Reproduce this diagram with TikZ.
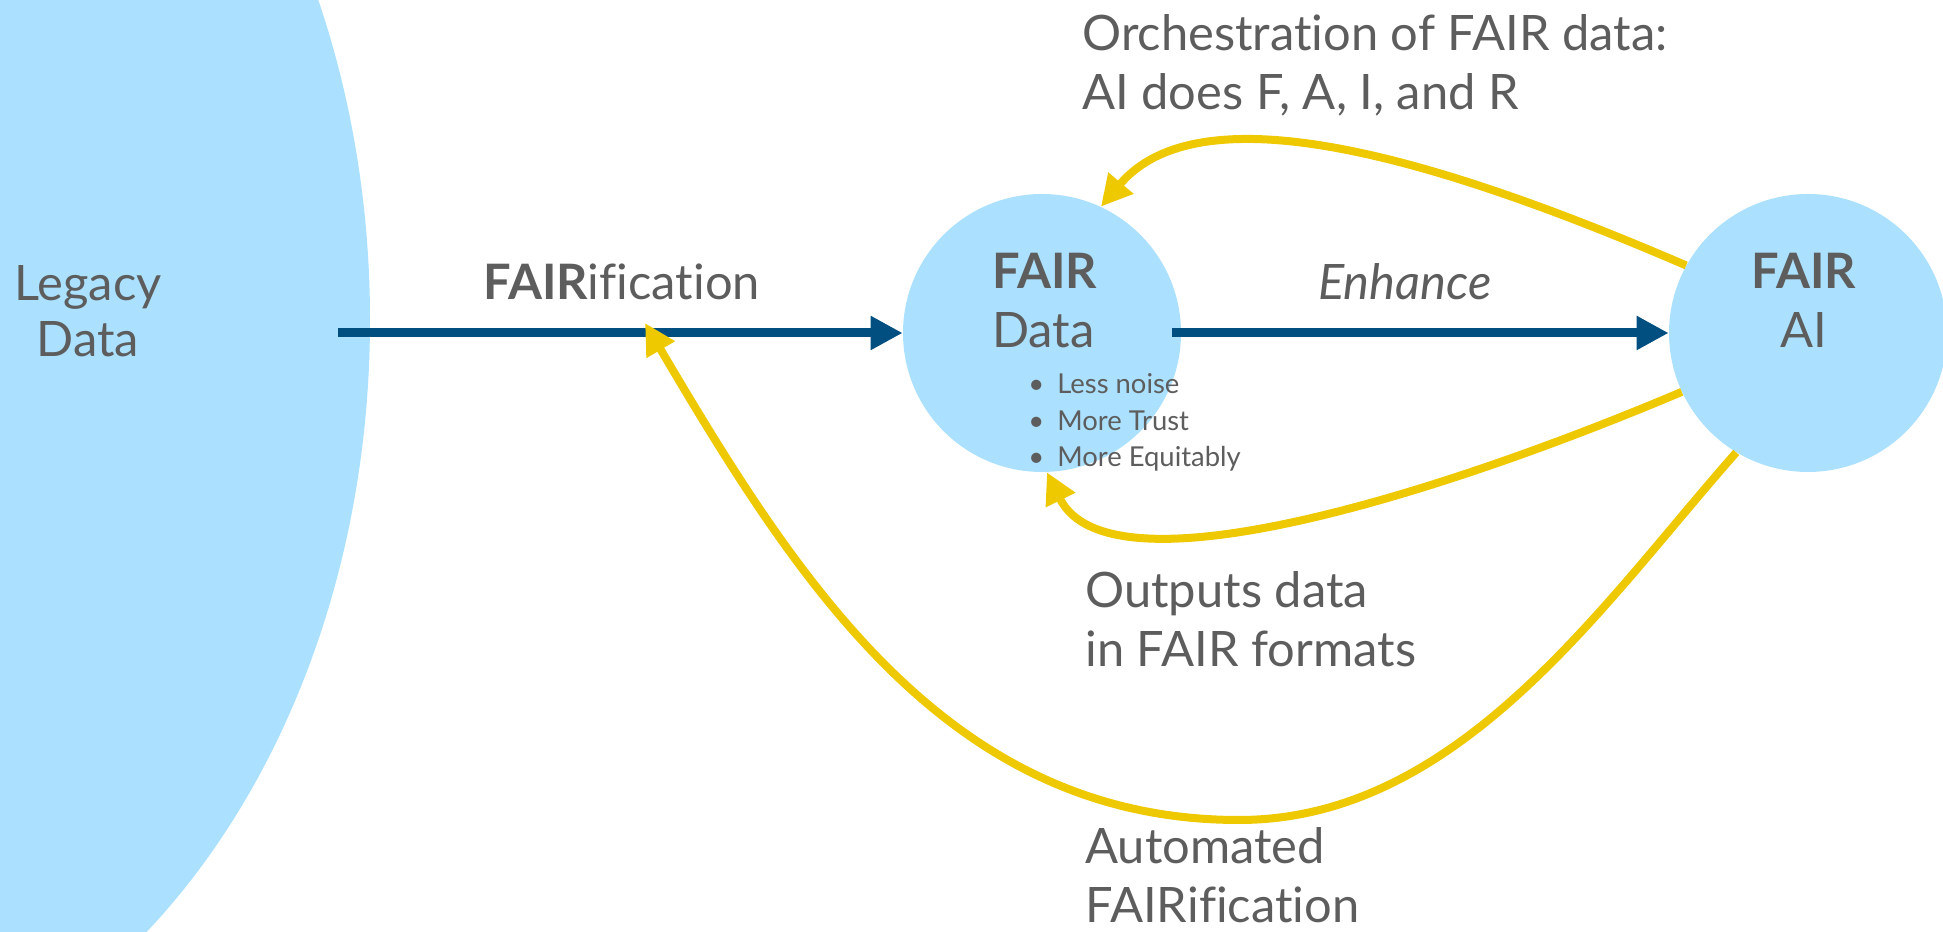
\documentclass[tikz,border=0pt]{standalone}
\usepackage{fontspec}
\setmainfont{Lato}[Ligatures=NoCommon]
\usetikzlibrary{arrows.meta}

\definecolor{bubblefill}{RGB}{171,224,254}
\definecolor{flowblue}{RGB}{0,79,128}
\definecolor{loopgold}{RGB}{238,201,0}
\definecolor{inkgray}{RGB}{93,93,93}

\tikzset{
    bubble/.style={circle, fill=bubblefill, minimum size=5.56cm, inner sep=0pt},
    bigtext/.style={text=inkgray, font=\fontsize{27.8}{34}\selectfont, inner sep=0pt},
    smalltext/.style={text=inkgray, font=\fontsize{15.6}{21}\selectfont, inner sep=0pt},
    flowarrow/.style={flowblue, line width=0.18cm, -{Triangle[length=0.64cm, width=0.64cm]}},
    feedback/.style={loopgold, line width=0.16cm, -{Triangle[length=0.62cm, width=0.62cm]}}
}

\begin{document}
\begin{tikzpicture}
    \useasboundingbox (0,0) rectangle (38.86,18.62);

    \begin{scope}
        \clip (0,0) rectangle (38.86,18.62);
        \fill[bubblefill] (-4.52,12.22) ellipse [x radius=11.92, y radius=15.68];
    \end{scope}

    \node[bubble] (data) at (20.84,11.96) {};
    \node[bubble] (ai) at (36.16,11.96) {};

    \coordinate (legacyout) at (6.76,11.96);
    \coordinate (dataout) at (23.44,11.96);
    \coordinate (fairtip) at (12.90,12.16);

    \draw[flowarrow] (legacyout) -- (data);
    \draw[flowarrow] (dataout) -- (ai);

    \draw[feedback] (ai.151) .. controls (28.60,15.52) and (24.00,16.82) .. (data.65);
    \draw[feedback] (ai.205) .. controls (29.00,8.82) and (22.20,6.62) .. (data.272);
    \draw[feedback] (ai.239) .. controls (32.06,6.56) and (29.18,2.22) .. (24.78,2.22)
        .. controls (19.00,2.22) and (16.00,6.90) .. (fairtip);

    % multi-line nodes sit on the baseline of their last line
    \node[bigtext, align=center, anchor=base, font=\fontsize{27.8}{32}\selectfont] (legacy) at (1.76,11.48) {Legacy\\Data};
    \node[bigtext, anchor=base west] (fairification) at (9.66,12.62) {{\bfseries FAIR}ification};
    \node[bigtext, anchor=base] (enhance) at (28.10,12.62) {\itshape Enhance};

    \node[bigtext, align=left, anchor=base west] (datalabel) at (19.84,11.66) {{\bfseries FAIR}\\Data};
    \node[smalltext, align=left, anchor=base west] (gains) at (20.56,9.28)
        {\makebox[0.58cm][l]{•}Less noise\\\makebox[0.58cm][l]{•}More Trust\\\makebox[0.58cm][l]{•}More Equitably};
    \node[bigtext, align=center, anchor=base] (ailabel) at (36.08,11.66) {{\bfseries FAIR}\\AI};

    \node[bigtext, align=left, anchor=base west] (orchestration) at (21.64,16.42) {Orchestration of FAIR data:\\AI does F, A, I, and R};
    \node[bigtext, align=left, anchor=base west] (outputs) at (21.70,5.28) {Outputs data\\in FAIR formats};
    \node[bigtext, align=left, anchor=base west] (automated) at (21.70,0.16) {Automated\\FAIRification};
\end{tikzpicture}
\end{document}
